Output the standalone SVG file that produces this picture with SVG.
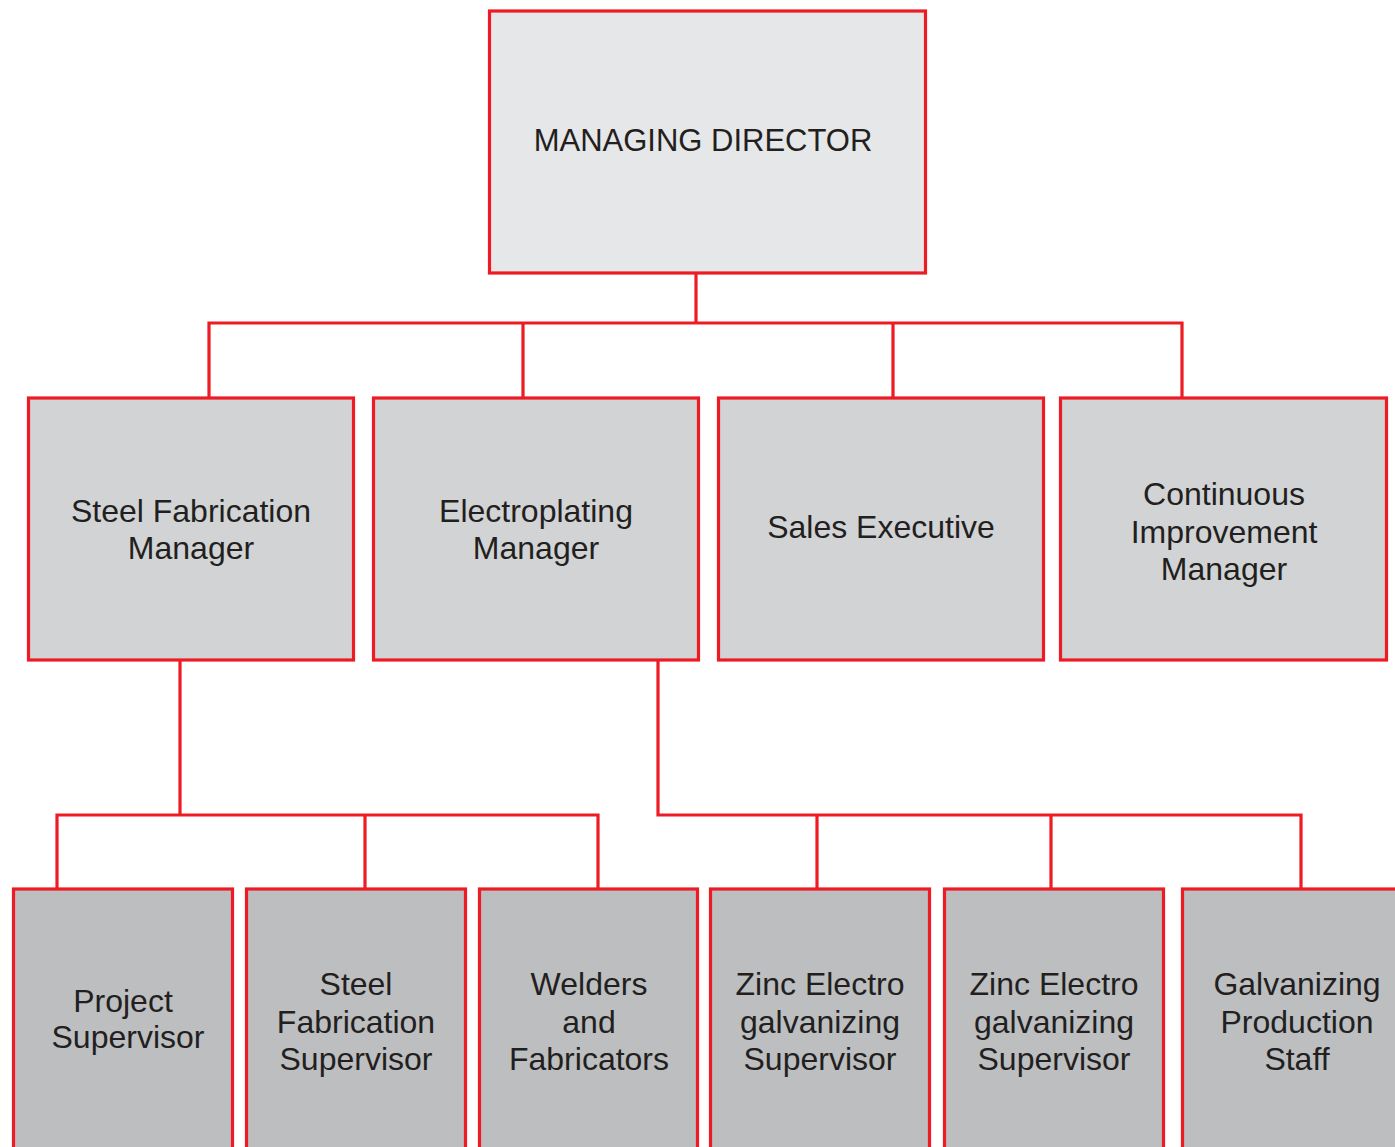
<svg xmlns="http://www.w3.org/2000/svg" width="1395" height="1147" viewBox="0 0 1395 1147">
<style>
.box{stroke:#ed1c24;stroke-width:3.2}
.l0{fill:#e6e7e8}
.l1{fill:#d1d3d4}
.l2{fill:#bcbec0}
.t{font-family:"Liberation Sans",Arial,sans-serif;font-size:32px;fill:#231f20;text-anchor:middle}
.c{fill:none;stroke:#ed1c24;stroke-width:3.2;stroke-linejoin:miter}
</style>
<rect width="1395" height="1147" fill="#ffffff"/>
<g id="connectors">
<path class="c" d="M696 274V323M209 398V323H1182V398M523 323V398M893 323V398"/>
<path class="c" d="M180 660V815M57 888V815H598V888M365 815V888"/>
<path class="c" d="M658 660V815H1301V888M817 815V888M1051 815V888"/>
</g>
<g id="managing-director">
<rect class="box l0" x="489.5" y="11" width="436" height="262"/>
<text class="t" x="703" y="151" style="font-size:31px">MANAGING DIRECTOR</text>
</g>
<g id="steel-fabrication-manager">
<rect class="box l1" x="28.5" y="398" width="325" height="262"/>
<text class="t" x="191" y="522">Steel Fabrication</text>
<text class="t" x="191" y="559">Manager</text>
</g>
<g id="electroplating-manager">
<rect class="box l1" x="373.5" y="398" width="325" height="262"/>
<text class="t" x="536" y="522">Electroplating</text>
<text class="t" x="536" y="559">Manager</text>
</g>
<g id="sales-executive">
<rect class="box l1" x="718.5" y="398" width="325" height="262"/>
<text class="t" x="881" y="538">Sales Executive</text>
</g>
<g id="continuous-improvement-manager">
<rect class="box l1" x="1060.5" y="398" width="326" height="262"/>
<text class="t" x="1224" y="505">Continuous</text>
<text class="t" x="1224" y="543">Improvement</text>
<text class="t" x="1224" y="580">Manager</text>
</g>
<g id="project-supervisor">
<rect class="box l2" x="13.5" y="889" width="219" height="280"/>
<text class="t" x="123" y="1012">Project</text>
<text class="t" x="128" y="1048">Supervisor</text>
</g>
<g id="steel-fabrication-supervisor">
<rect class="box l2" x="246.5" y="889" width="219" height="280"/>
<text class="t" x="356" y="995">Steel</text>
<text class="t" x="356" y="1033">Fabrication</text>
<text class="t" x="356" y="1070">Supervisor</text>
</g>
<g id="welders-and-fabricators">
<rect class="box l2" x="479.5" y="889" width="218" height="280"/>
<text class="t" x="589" y="995">Welders</text>
<text class="t" x="589" y="1033">and</text>
<text class="t" x="589" y="1070">Fabricators</text>
</g>
<g id="zinc-electro-galvanizing-supervisor-1">
<rect class="box l2" x="710.5" y="889" width="219" height="280"/>
<text class="t" x="820" y="995">Zinc Electro</text>
<text class="t" x="820" y="1033">galvanizing</text>
<text class="t" x="820" y="1070">Supervisor</text>
</g>
<g id="zinc-electro-galvanizing-supervisor-2">
<rect class="box l2" x="944.5" y="889" width="219" height="280"/>
<text class="t" x="1054" y="995">Zinc Electro</text>
<text class="t" x="1054" y="1033">galvanizing</text>
<text class="t" x="1054" y="1070">Supervisor</text>
</g>
<g id="galvanizing-production-staff">
<rect class="box l2" x="1182.5" y="889" width="240" height="280"/>
<text class="t" x="1297" y="995">Galvanizing</text>
<text class="t" x="1297" y="1033">Production</text>
<text class="t" x="1297" y="1070">Staff</text>
</g>
</svg>
